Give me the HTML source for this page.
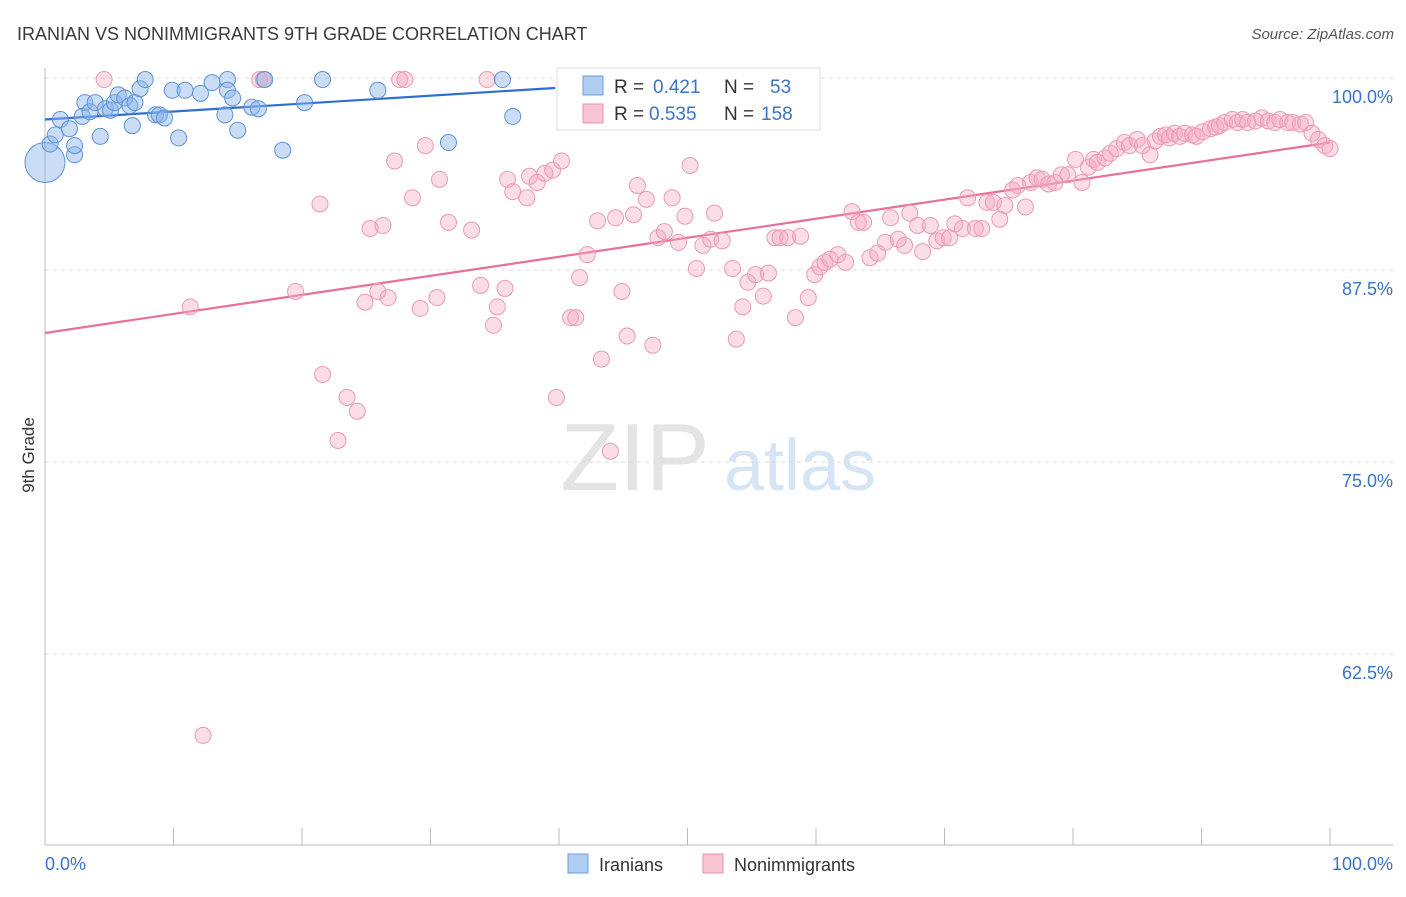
<!DOCTYPE html>
<html><head><meta charset="utf-8">
<style>
body{margin:0;background:#fff;font-family:"Liberation Sans",sans-serif;}
svg text{font-family:"Liberation Sans",sans-serif;}
</style></head>
<body>
<svg id="chart" width="1406" height="892" xmlns="http://www.w3.org/2000/svg">
<text x="17" y="40" font-size="18" fill="#3a3a3a">IRANIAN VS NONIMMIGRANTS 9TH GRADE CORRELATION CHART</text>
<text x="1394" y="39" font-size="15" fill="#555" text-anchor="end" font-style="italic">Source: ZipAtlas.com</text>
<g>
<text x="635" y="490" font-size="96" fill="#e4e4e4" text-anchor="middle" font-family="Liberation Serif, serif">ZIP</text>
<text x="800" y="490" font-size="72" fill="#d6e4f4" text-anchor="middle">atlas</text>
</g>
<g id="grid"></g>
<g id="axes"></g>
<text transform="translate(34,455) rotate(-90)" font-size="17" fill="#333" text-anchor="middle">9th Grade</text>
<g id="lines"></g>
<g id="pts"></g>
<g>
<rect x="557" y="68" width="263" height="62" fill="#fff" stroke="#ddd"/>
<rect x="583" y="76" width="20" height="19" fill="#b0cdf2" stroke="#6a9fd8"/>
<text x="614" y="93" font-size="19" fill="#333">R =</text>
<text x="653" y="93" font-size="19" fill="#3b73c9">0.421</text>
<text x="724" y="93" font-size="19" fill="#333">N =</text>
<text x="770" y="93" font-size="19" fill="#3b73c9">53</text>
<rect x="583" y="104" width="20" height="19" fill="#f8c4d2" stroke="#e890a8"/>
<text x="614" y="120" font-size="19" fill="#333">R =</text>
<text x="649" y="120" font-size="19" fill="#3b73c9">0.535</text>
<text x="724" y="120" font-size="19" fill="#333">N =</text>
<text x="761" y="120" font-size="19" fill="#3b73c9">158</text>
</g>
<g>
<rect x="568" y="854" width="20" height="19" fill="#b0cdf2" stroke="#6a9fd8"/>
<text x="599" y="871" font-size="18" fill="#333">Iranians</text>
<rect x="703" y="854" width="20" height="19" fill="#f8c4d2" stroke="#e890a8"/>
<text x="734" y="871" font-size="18" fill="#333">Nonimmigrants</text>
</g>
</svg>
<script>
const yTicks=[100,87.5,75,62.5];
const yTickLabels=["100.0%","87.5%","75.0%","62.5%"];
const xTickCount=10;
const iranX=[0,0.4,0.8,1.2,1.9,2.3,2.3,3.1,2.9,3.5,3.9,4.3,4.7,5.1,5.4,5.7,6.2,6.6,6.8,7.0,7.4,7.8,8.6,8.9,9.3,9.9,10.4,10.9,12.1,13.0,14.0,14.2,14.2,14.6,15.0,16.1,16.6,17.1,18.5,20.2,21.6,25.9,31.4,35.6,36.4,52.4];
const iranY=[94.5,95.7,96.3,97.3,96.7,95.0,95.6,98.4,97.5,97.8,98.4,96.2,98.0,97.9,98.4,98.9,98.7,98.2,96.9,98.4,99.3,99.9,97.6,97.6,97.4,99.2,96.1,99.2,99.0,99.7,97.6,99.9,99.2,98.7,96.6,98.1,98.0,99.9,95.3,98.4,99.9,99.2,95.8,99.9,97.5,99.9];
const nonX=[4.6,11.3,12.3,16.7,17.0,19.5,21.4,21.6,22.8,23.5,24.3,24.9,25.3,25.9,26.3,26.7,27.2,27.6,28.0,28.6,29.2,29.6,30.5,30.7,31.4,33.2,33.9,34.4,34.9,35.2,35.8,36.0,36.4,37.5,37.7,38.3,38.9,39.5,39.8,40.2,40.9,41.3,41.6,42.2,43.0,43.3,44.0,44.4,44.9,45.3,45.8,46.1,46.8,47.3,47.7,48.2,48.8,49.3,49.8,50.2,50.7,51.2,51.8,52.1,52.7,53.5,53.8,54.3,54.7,55.3,55.9,56.3,56.8,57.2,57.8,58.4,58.8,59.4,59.9,60.3,60.7,61.1,61.7,62.3,62.8,63.3,63.7,64.2,64.8,65.4,65.8,66.4,66.9,67.3,67.9,68.3,68.9,69.4,69.9,70.4,70.8,71.4,71.8,72.4,72.9,73.3,73.8,74.3,74.7,75.3,75.7,76.3,76.7,77.2,77.6,78.1,78.6,79.1,79.6,80.2,80.7,81.2,81.6,81.9,82.5,82.9,83.4,84.0,84.4,85.0,85.4,86.0,86.4,86.8,87.2,87.5,87.9,88.3,88.7,89.3,89.6,90.1,90.7,91.1,91.4,91.8,92.4,92.8,93.2,93.6,94.2,94.7,95.2,95.7,96.1,96.7,97.1,97.7,98.1,98.6,99.1,99.6,100];
const nonY=[99.9,85.1,57.2,99.9,99.9,86.1,91.8,80.7,76.4,79.2,78.3,85.4,90.2,86.1,90.4,85.7,94.6,99.9,99.9,92.2,85.0,95.6,85.7,93.4,90.6,90.1,86.5,99.9,83.9,85.1,86.3,93.4,92.6,92.2,93.6,93.2,93.8,94.0,79.2,94.6,84.4,84.4,87.0,88.5,90.7,81.7,75.7,90.9,86.1,83.2,91.1,93.0,92.1,82.6,89.6,90.0,92.2,89.3,91.0,94.3,87.6,89.1,89.5,91.2,89.4,87.6,83.0,85.1,86.7,87.2,85.8,87.3,89.6,89.6,89.6,84.4,89.7,85.7,87.2,87.7,88.0,88.2,88.5,88.0,91.3,90.6,90.6,88.3,88.6,89.3,90.9,89.5,89.1,91.2,90.4,88.7,90.4,89.4,89.6,89.6,90.5,90.2,92.2,90.2,90.2,91.9,91.9,90.8,91.7,92.7,93.0,91.6,93.2,93.5,93.4,93.1,93.2,93.7,93.7,94.7,93.2,94.2,94.7,94.5,94.8,95.1,95.4,95.8,95.6,96.0,95.6,95.0,95.9,96.2,96.3,96.1,96.4,96.2,96.4,96.3,96.2,96.5,96.7,96.8,96.9,97.1,97.3,97.1,97.3,97.1,97.2,97.4,97.2,97.1,97.3,97.1,97.1,97.0,97.1,96.4,96.0,95.6,95.4];
const iranLine=[[0,97.3],[39.7,99.35]];
const nonLine=[[0,83.4],[100,95.8]];
const NS="http://www.w3.org/2000/svg";
const sx=v=>45+v*12.85;
const sy=v=>78+(100-v)*15.36;
function mk(tag,attrs,parent){const e=document.createElementNS(NS,tag);for(const k in attrs)e.setAttribute(k,attrs[k]);parent.appendChild(e);return e;}
const grid=document.getElementById('grid'),axes=document.getElementById('axes');
yTicks.forEach((t,i)=>{
  const g=mk('line',{x1:45,x2:1393,y1:sy(t),y2:sy(t),stroke:'#ddd','stroke-dasharray':'4,4'},grid);
  
  
  const tx=mk('text',{x:1393,y:sy(t)+25,'font-size':18,fill:'#3b73c9','text-anchor':'end'},axes);
  tx.textContent=yTickLabels[i];
  
  
});
mk('line',{x1:45,x2:45,y1:68,y2:845,stroke:'#bbb'},axes);
mk('line',{x1:45,x2:1393,y1:845,y2:845,stroke:'#bbb'},axes);
for(let i=0;i<=xTickCount;i++){
  const x=sx(i*100/xTickCount);
  const t=mk('line',{x1:x,x2:x,y1:828,y2:845,stroke:'#bbb'},axes);
  
  
}
const xl0=mk('text',{x:45,y:870,'font-size':18,fill:'#3b73c9'},axes);xl0.textContent='0.0%';


const xl1=mk('text',{x:1393,y:870,'font-size':18,fill:'#3b73c9','text-anchor':'end'},axes);xl1.textContent='100.0%';


const pts=document.getElementById('pts');
nonX.forEach((x,i)=>{
  const c=mk('circle',{cx:sx(x),cy:sy(nonY[i]),r:8,fill:'rgba(245,170,192,0.4)',stroke:'#eb9ab2','stroke-width':1},pts);
  
  
});
iranX.forEach((x,i)=>{
  const c=mk('circle',{cx:sx(x),cy:sy(iranY[i]),r:i===0?20:8,fill:'rgba(140,180,235,0.45)',stroke:'#5b93d6','stroke-width':1},pts);
  
  
});
const lines=document.getElementById('lines');
const l1=mk('line',{x1:sx(iranLine[0][0]),y1:sy(iranLine[0][1]),x2:sx(iranLine[1][0]),y2:sy(iranLine[1][1]),stroke:'#2f6fd1','stroke-width':2.2},lines);


const l2=mk('line',{x1:sx(nonLine[0][0]),y1:sy(nonLine[0][1]),x2:sx(nonLine[1][0]),y2:sy(nonLine[1][1]),stroke:'#e8709a','stroke-width':2.2},lines);


</script>
</body></html>
